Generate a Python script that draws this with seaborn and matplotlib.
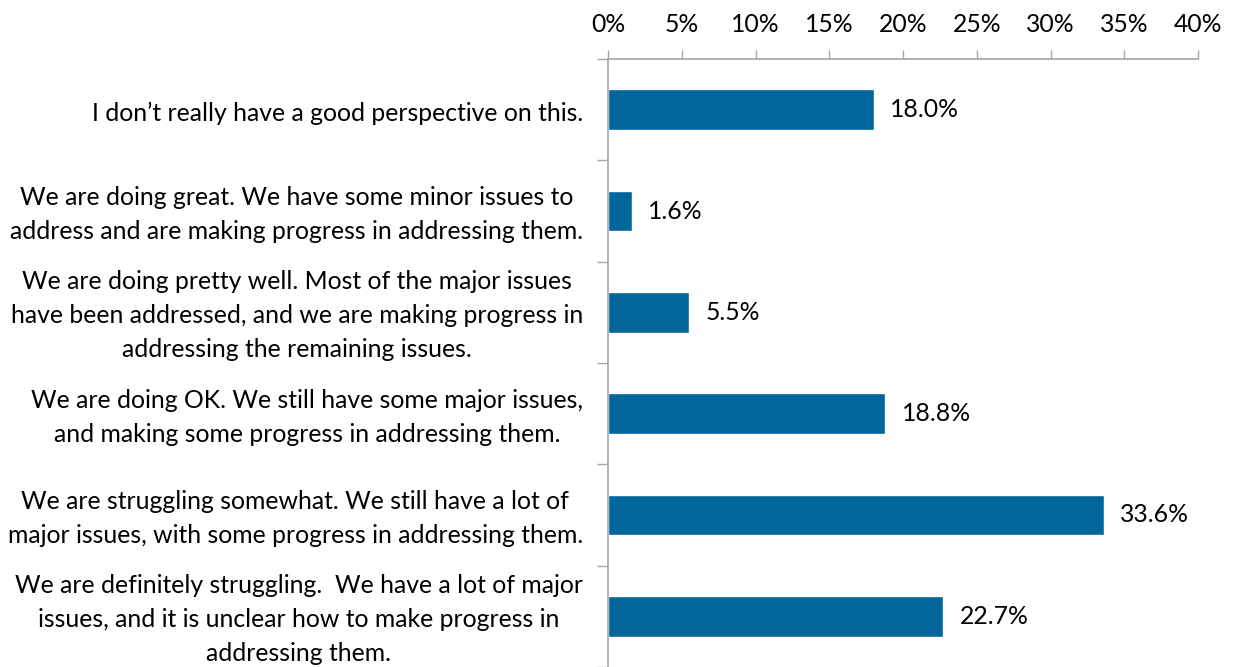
import matplotlib
matplotlib.use("Agg")
import matplotlib.pyplot as plt
import matplotlib.transforms as mtransforms
import seaborn as sns
import pandas as pd
import numpy as np
from matplotlib.ticker import FixedLocator, PercentFormatter

categories = [
    "I don\u2019t really have a good perspective on this.",
    "We are doing great. We have some minor issues to\naddress and are making progress in addressing them.",
    "We are doing pretty well. Most of the major issues\nhave been addressed, and we are making progress in\naddressing the remaining issues.",
    "We are doing OK. We still have some major issues,\nand making some progress in addressing them.",
    "We are struggling somewhat. We still have a lot of\nmajor issues, with some progress in addressing them.",
    "We are definitely struggling.  We have a lot of major\nissues, and it is unclear how to make progress in\naddressing them.",
]
values = [18.0, 1.6, 5.5, 18.8, 33.6, 22.7]
x_ticks = [0, 5, 10, 15, 20, 25, 30, 35, 40]

sns.set_theme(style="white")
plt.rcParams["font.family"] = ["Lato", "DejaVu Sans"]

df = pd.DataFrame({"category": categories, "value": values})

fig = plt.figure(figsize=(12.33, 6.67), dpi=100)
ax = fig.add_axes([608/1233, 0.0, (1198-608)/1233, 1 - 59/667])

sns.barplot(data=df, x="value", y="category", orient="h", color="#01669A",
            width=0.4, saturation=1, ax=ax)

ax.set_xlim(0, 40)
ax.set_ylim(len(categories) - 0.5, -0.5)
ax.xaxis.tick_top()
ax.set_xticks(x_ticks)
ax.xaxis.set_major_formatter(PercentFormatter(decimals=0))
ax.set_xlabel("")
ax.set_ylabel("")

grey = "#A6A6A6"
fs = 17.8
for side in ["right", "bottom"]:
    ax.spines[side].set_visible(False)
for side in ["top", "left"]:
    ax.spines[side].set_color(grey)
    ax.spines[side].set_linewidth(1.2)

ax.tick_params(axis="x", which="major", direction="out", length=6.5, width=1.0,
               color=grey, labelsize=fs, pad=10, labelcolor="black", top=True, bottom=False)
ax.tick_params(axis="y", which="major", length=0, labelsize=fs, pad=18, labelcolor="black")
ax.yaxis.set_minor_locator(FixedLocator(np.arange(-0.5, len(categories), 1.0)))
ax.tick_params(axis="y", which="minor", direction="out", length=8, width=1.0, color=grey, left=True)

shift = mtransforms.ScaledTranslation(0, -3.5 / 100, fig.dpi_scale_trans)
for lbl in ax.get_yticklabels():
    lbl.set_multialignment("center")
    lbl.set_linespacing(1.58)
    lbl.set_verticalalignment("center")
    lbl.set_transform(lbl.get_transform() + shift)

for i, v in enumerate(values):
    ax.annotate(f"{v:.1f}%", xy=(v, i), xytext=(12, 0), textcoords="offset points",
                ha="left", va="center", fontsize=fs, color="black")

fig.savefig("out.png", dpi=100)
